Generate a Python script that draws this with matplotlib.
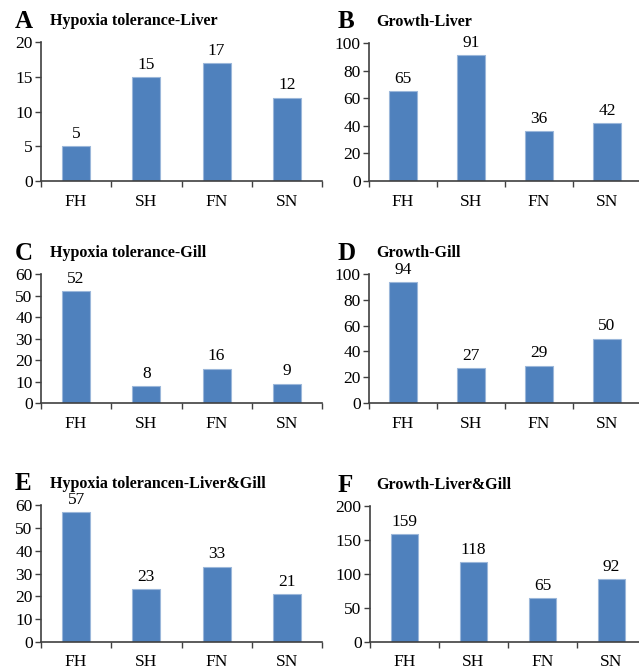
import numpy as np
import matplotlib.pyplot as plt
from matplotlib.ticker import FixedLocator

plt.rcParams['font.family'] = ['Liberation Serif', 'DejaVu Serif']

# Données
groups = ["FH", "SH", "FN", "SN"]

hypoxia_liver = [5, 15, 17, 12]
growth_liver = [65, 91, 36, 42]
hypoxia_gill = [52, 8, 16, 9]
growth_gill = [94, 27, 29, 50]
hypoxia_both = [57, 23, 33, 21]
growth_both = [159, 118, 65, 92]

letters = ["A", "B", "C", "D", "E", "F"]
titles = ["Hypoxia tolerance-Liver", "Growth-Liver",
          "Hypoxia tolerance-Gill", "Growth-Gill",
          "Hypoxia tolerancen-Liver&Gill", "Growth-Liver&Gill"]
series = [hypoxia_liver, growth_liver, hypoxia_gill,
          growth_gill, hypoxia_both, growth_both]
y_max = [20, 100, 60, 100, 60, 200]
y_step = [5, 20, 10, 20, 10, 50]

W, H = 639, 670
# boîtes des axes en pixels: (x0, x1, y_haut, y_bas)
boxes = [(41, 322, 42, 181), (369, 641, 43, 181),
         (41, 322, 274, 403), (369, 641, 274, 403),
         (41, 322, 505, 642), (370, 646, 506, 642)]

BAR_COLOR = "#4F81BD"
AXIS_COLOR = "#404040"

fig = plt.figure(figsize=(W / 100, H / 100), dpi=100)

for i, (x0, x1, yt, yb) in enumerate(boxes):
    ax = fig.add_axes([x0 / W, 1 - yb / H, (x1 - x0) / W, (yb - yt) / H])
    vals = series[i]
    x = np.arange(len(groups))
    ax.bar(x, vals, width=0.4, color=BAR_COLOR, edgecolor="#9BB7DA", linewidth=0.8)
    for xi, v in zip(x, vals):
        ax.annotate(str(v), (xi, v), xytext=(0, 3), textcoords="offset points",
                    ha="center", va="bottom", fontsize=12.5)

    ax.set_xlim(-0.5, 3.5)
    ax.set_ylim(0, y_max[i])
    ax.set_yticks(np.arange(0, y_max[i] + 1, y_step[i]))
    ax.tick_params(axis="y", direction="out", length=4, width=1,
                   color=AXIS_COLOR, labelsize=12.5, pad=2)

    # tirets de séparation entre catégories, étiquettes au centre
    ax.xaxis.set_major_locator(FixedLocator(np.arange(-0.5, 4, 1.0)))
    ax.xaxis.set_major_formatter(plt.NullFormatter())
    ax.set_xticks(x, minor=True)
    ax.set_xticklabels(groups, minor=True)
    ax.tick_params(axis="x", which="major", direction="out", length=4,
                   width=1, color=AXIS_COLOR)
    ax.tick_params(axis="x", which="minor", length=0, labelsize=12.5, pad=9)

    for s in ["top", "right"]:
        ax.spines[s].set_visible(False)
    for s in ["left", "bottom"]:
        ax.spines[s].set_color(AXIS_COLOR)
        ax.spines[s].set_linewidth(1.2)

    # lettre du panneau et titre
    lx = 15 if x0 < 100 else 338
    tx = 50 if x0 < 100 else 376
    ty = yt - 22
    fig.text(lx / W, 1 - (ty + 1) / H, letters[i], fontsize=18, fontweight="bold",
             va="center", ha="left")
    fig.text(tx / W, 1 - (ty + 1) / H, titles[i], fontsize=11.5,
             fontweight="bold", va="center", ha="left")

fig.savefig("out.png", dpi=100)
